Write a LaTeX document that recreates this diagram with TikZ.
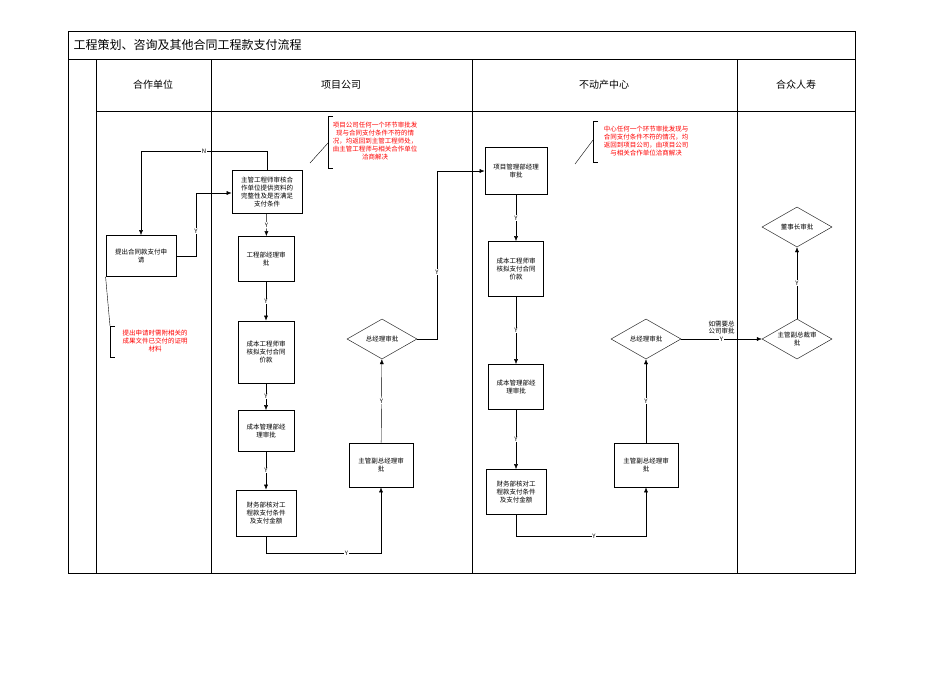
\documentclass[tikz,border=0pt]{standalone}
\usepackage{fontspec}
\setmainfont{Noto Sans CJK SC}
\usetikzlibrary{shapes.geometric,arrows.meta}
\begin{document}
\begin{tikzpicture}[x=1pt,y=-1pt,
  box/.style={draw,thick,align=center,font=\fontsize{6.5}{8}\selectfont,inner sep=1pt},
  dia/.style={draw,diamond,aspect=1.75,align=center,font=\fontsize{6.5}{8}\selectfont,inner sep=0pt,minimum width=70pt,minimum height=40pt},
  note/.style={text=red,align=center,font=\fontsize{6.5}{8}\selectfont,inner sep=1pt},
  arr/.style={-{Latex[length=5pt,width=4pt]},thin},
  lab/.style={fill=white,inner sep=0.5pt,font=\fontsize{6}{7}\selectfont}]
\useasboundingbox (0,0) rectangle (950,672);
% frame
\draw (68,31) rectangle (855,573);
\draw (68,59) -- (855,59);
\draw (96,111) -- (855,111);
\foreach \x in {96,211,472,737} \draw (\x,59) -- (\x,573);
\node[anchor=west,font=\fontsize{12}{14}\selectfont] (title) at (70,45) {工程策划、咨询及其他合同工程款支付流程};
\node[font=\fontsize{10}{12}\selectfont] (h1) at (153,85) {合作单位};
\node[font=\fontsize{10}{12}\selectfont] (h2) at (341,85) {项目公司};
\node[font=\fontsize{10}{12}\selectfont] (h3) at (604,85) {不动产中心};
\node[font=\fontsize{10}{12}\selectfont] (h4) at (796,85) {合众人寿};
% nodes
\node[box,minimum width=70pt,minimum height=41pt] (apply) at (141,256) {提出合同款支付申\\请};
\node[box,minimum width=70pt,minimum height=43pt] (eng) at (267,192) {主管工程师审核合\\作单位提供资料的\\完整性及是否满足\\支付条件};
\node[box,minimum width=56pt,minimum height=45pt] (gm1) at (266,259) {工程部经理审\\批};
\node[box,minimum width=56pt,minimum height=62pt] (cost1) at (266,352) {成本工程师审\\核拟支付合同\\价款};
\node[box,minimum width=56pt,minimum height=41pt] (cm1) at (266,431) {成本管理部经\\理审批};
\node[box,minimum width=60pt,minimum height=46pt] (fin1) at (266,513) {财务部核对工\\程款支付条件\\及支付金额};
\node[box,minimum width=64pt,minimum height=44pt] (vp1) at (381,465) {主管副总经理审\\批};
\node[dia] (d1) at (382,339) {总经理审批};
\node[box,minimum width=62pt,minimum height=47pt] (pm) at (516,171) {项目管理部经理\\审批};
\node[box,minimum width=55pt,minimum height=55pt] (cost2) at (516,269) {成本工程师审\\核拟支付合同\\价款};
\node[box,minimum width=55pt,minimum height=45pt] (cm2) at (516,387) {成本管理部经\\理审批};
\node[box,minimum width=60pt,minimum height=45pt] (fin2) at (516,492) {财务部核对工\\程款支付条件\\及支付金额};
\node[box,minimum width=64pt,minimum height=44pt] (vp2) at (646,465) {主管副总经理审\\批};
\node[dia] (d2) at (646,339) {总经理审批};
\node[dia] (d3) at (797,339) {主管副总裁审\\批};
\node[dia] (d4) at (797,227) {董事长审批};
% notes
\node[note] (n1) at (375,141) {项目公司任何一个环节审批发\\现与合同支付条件不符的情\\况，均返回到主管工程师处，\\由主管工程师与相关合作单位\\洽商解决};
\node[note] (n2) at (646,141) {中心任何一个环节审批发现与\\合同支付条件不符的情况，均\\返回到项目公司，由项目公司\\与相关合作单位洽商解决};
\node[note] (n3) at (155,341) {提出申请时需附相关的\\成果文件已交付的证明\\材料};
\draw (333,116) -- (328,116) -- (328,168) -- (333,168);
\draw (310,163) -- (328,143);
\draw (598,121) -- (593,121) -- (593,162) -- (598,162);
\draw (575,164) -- (593,140);
\draw (115,326) -- (110,326) -- (110,357) -- (115,357);
\draw (apply.south west) -- (110,326);
% connectors
\draw[arr] (eng.north) -- (267,151) -- node[lab]{N} (141,151) -- (apply.north);
\draw[arr] (apply.east) -- (196,256) -- node[lab,pos=0.4]{Y} (196,193) -- (eng.west |- 0,193);
\draw[arr] (eng) -- node[lab]{Y} (gm1);
\draw[arr] (gm1) -- node[lab]{Y} (cost1);
\draw[arr] (cost1) -- node[lab]{Y} (cm1);
\draw[arr] (cm1) -- node[lab]{Y} (fin1);
\draw[arr] (fin1.south) -- (266,553) -- node[lab,pos=0.7]{Y} (381,553) -- (vp1.south);
\draw[arr] (vp1) -- node[lab]{Y} (d1);
\draw[arr] (d1.east) -- (437,339) -- node[lab,pos=0.4]{Y} (437,171) -- (pm.west);
\draw[arr] (pm) -- node[lab]{Y} (cost2);
\draw[arr] (cost2) -- node[lab]{Y} (cm2);
\draw[arr] (cm2) -- node[lab]{Y} (fin2);
\draw[arr] (fin2.south) -- (516,536) -- node[lab,pos=0.6]{Y} (646,536) -- (vp2.south);
\draw[arr] (vp2) -- node[lab]{Y} (d2);
\draw[arr] (d2) -- node[lab]{Y} node[above=1pt,align=center,font=\fontsize{6.5}{7.5}\selectfont]{如需要总\\公司审批} (d3);
\draw[arr] (d3) -- node[lab]{Y} (d4);
\end{tikzpicture}
\end{document}
